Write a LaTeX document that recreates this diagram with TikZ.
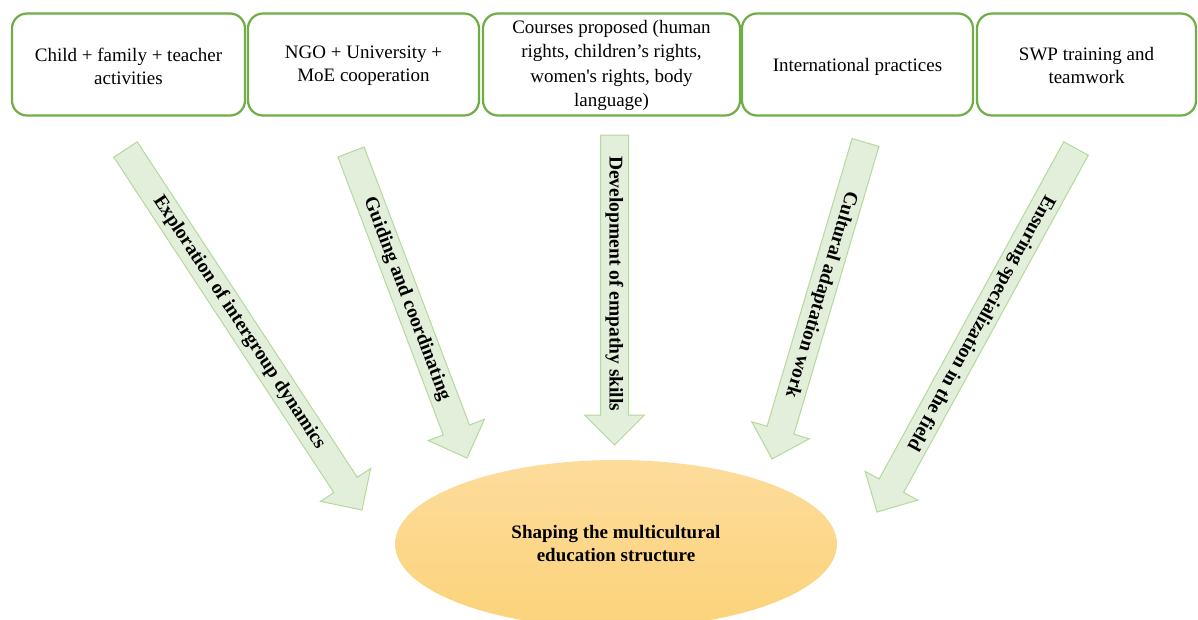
\documentclass[tikz,border=0pt]{standalone}
\usepackage{fontspec}
\setmainfont{Liberation Serif}
\usetikzlibrary{calc,shapes.geometric}
\definecolor{boxgreen}{HTML}{70AD47}
\definecolor{arrfill}{HTML}{E2EFDA}
\definecolor{arrdraw}{HTML}{B5D99C}
\definecolor{elltop}{HTML}{FDDC9C}
\definecolor{ellbot}{HTML}{FCD37A}
\newcommand\blockarrow[3]{%
  \coordinate (#3h) at ($(#2)!30pt!(#1)$);
  \draw[blockarr] ($(#1)!14pt!90:(#2)$) -- ($(#3h)!14pt!90:(#2)$) -- ($(#3h)!30pt!90:(#2)$)
    -- (#2) -- ($(#3h)!30pt!-90:(#2)$) -- ($(#3h)!14pt!-90:(#2)$) -- ($(#1)!14pt!-90:(#2)$) -- cycle;
}
\begin{document}
\begin{tikzpicture}[x=1pt,y=-1pt,
  topbox/.style={draw=boxgreen, line width=2.2pt, rounded corners=15pt, fill=white,
    inner sep=0pt, minimum height=102pt},
  boxtext/.style={align=center, font=\fontsize{19}{23.5}\selectfont, inner sep=0pt},
  arrlabel/.style={font=\bfseries\fontsize{19.5}{22}\selectfont, sloped, allow upside down, inner sep=0pt},
  blockarr/.style={fill=arrfill, draw=arrdraw, line width=1pt, line join=miter}]
\useasboundingbox (0,0) rectangle (1198,619);
\clip (0,0) rectangle (1198,619);
\fill[white] (0,0) rectangle (1198,619);

% top boxes
\node[topbox, minimum width=233pt] (b1) at (128.5,64.5) {};
\node[boxtext] (t1) at ($(b1.center)+(0,2)$) {Child + family + teacher\\activities};
\node[topbox, minimum width=231pt] (b2) at (363.5,64.5) {};
\node[boxtext] (t2) at ($(b2.center)+(0,1)$) {NGO + University +\\MoE cooperation};
\node[topbox, minimum width=257pt] (b3) at (611.5,64.5) {};
\node[boxtext, font=\fontsize{19}{24.2}\selectfont] (t3) at ($(b3.center)+(0,1)$) {Courses proposed (human\\rights, children’s rights,\\women\textquotesingle s rights, body\\language)};
\node[topbox, minimum width=231pt] (b4) at (857.5,64.5) {};
\node[boxtext] (t4) at ($(b4.center)+(0,2)$) {International practices};
\node[topbox, minimum width=219pt] (b5) at (1086.5,64.5) {};
\node[boxtext] (t5) at ($(b5.center)+(0,1)$) {SWP training and\\teamwork};

% goal ellipse
\node[ellipse, minimum width=442pt, minimum height=168pt, top color=elltop, bottom color=ellbot,
  draw=none, align=center, font=\bfseries\fontsize{19}{23}\selectfont] (goal) at (616,544)
  {Shaping the multicultural\\education structure};

% arrows
\coordinate (a1s) at (125.5,149.5); \coordinate (a1t) at (362,510);
\coordinate (a2s) at (351,152);     \coordinate (a2t) at (467,458);
\coordinate (a3s) at (614.5,135);   \coordinate (a3t) at (614.5,445);
\coordinate (a4s) at (865.5,142.5); \coordinate (a4t) at (772,459);
\coordinate (a5s) at (1076,148.5);  \coordinate (a5t) at (877,512);
\blockarrow{a1s}{a1t}{a1}
\blockarrow{a2s}{a2t}{a2}
\blockarrow{a3s}{a3t}{a3}
\blockarrow{a4s}{a4t}{a4}
\blockarrow{a5s}{a5t}{a5}

\path (a1s) -- (a1t) node[arrlabel, pos=0.48] (l1) {Exploration of intergroup dynamics};
\path (a2s) -- (a2t) node[arrlabel, pos=0.48] (l2) {Guiding and coordinating};
\path (a3s) -- (a3t) node[arrlabel, pos=0.48] (l3) {Development of empathy skills};
\path (a4s) -- (a4t) node[arrlabel, pos=0.48] (l4) {Cultural adaptation work};
\path (a5s) -- (a5t) node[arrlabel, pos=0.48] (l5) {Ensuring specialization in the field};
\end{tikzpicture}
\end{document}
